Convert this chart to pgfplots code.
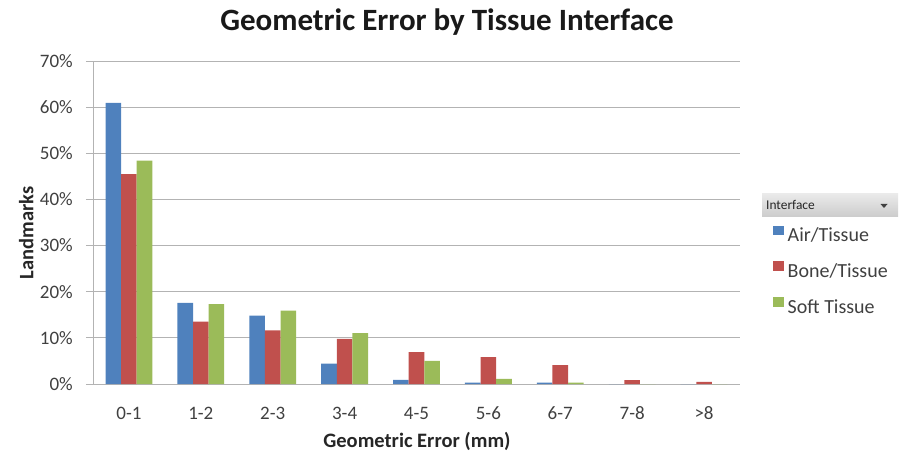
\documentclass[border=0pt]{standalone}
\usepackage{fontspec}
\setmainfont{Carlito}
\usepackage{pgfplots}
\pgfplotsset{compat=1.18}
\definecolor{cBlue}{HTML}{4F81BD}
\definecolor{cRed}{HTML}{C0504D}
\definecolor{cGreen}{HTML}{9BBB59}
\definecolor{gridc}{HTML}{B3B3B3}
\definecolor{txt}{HTML}{404040}
\begin{document}
\begin{tikzpicture}[x=1pt,y=1pt]
\useasboundingbox (0,0) rectangle (900,456);
\begin{axis}[
  at={(93pt,72pt)}, anchor=south west,
  scale only axis, width=647pt, height=323pt,
  ybar=0pt, bar width=15.6pt,
  xmin=-0.5, xmax=8.5, ymin=0, ymax=70,
  xtick={0,1,2,3,4,5,6,7,8},
  xticklabels={0-1,1-2,2-3,3-4,4-5,5-6,6-7,7-8,>8},
  ytick={0,10,20,30,40,50,60,70},
  yticklabel={\pgfmathprintnumber{\tick}\%},
  /pgf/number format/assume math mode=true,
  axis x line*=bottom, axis y line*=left,
  axis line style={gridc, line width=1pt, -},
  x tick style={draw=none},
  y tick style={gridc, line width=1pt},
  tick align=outside, major tick length=7pt,
  ymajorgrids, grid style={gridc, line width=1pt},
  ticklabel style={font=\fontsize{19}{22}\selectfont, text=txt},
  xticklabel style={anchor=base, yshift=-28pt},
  yticklabel style={anchor=east, inner sep=0pt, xshift=-13pt},
  legend style={at={(1.051,0.491)}, anchor=north west, draw=none, fill=none,
    inner sep=0pt, font=\fontsize{20}{24}\selectfont, text=txt,
    nodes={inner sep=0pt, text height=14pt, text depth=4pt},
    /tikz/row sep=15.7pt, /tikz/column sep=4pt},
  legend cell align=left,
  legend image code/.code={\fill[#1] (0pt,1.5pt) rectangle (10.5pt,11pt);},
]
\addplot[fill=cBlue, draw=none] coordinates {(0,60.9) (1,17.6) (2,14.8) (3,4.4) (4,0.9) (5,0.3) (6,0.3) (7,0) (8,0)};
\addplot[fill=cRed, draw=none] coordinates {(0,45.5) (1,13.5) (2,11.6) (3,9.8) (4,6.9) (5,5.85) (6,4.1) (7,0.85) (8,0.45)};
\addplot[fill=cGreen, draw=none] coordinates {(0,48.4) (1,17.3) (2,15.9) (3,11.05) (4,5.0) (5,1.1) (6,0.3) (7,0) (8,0)};
\legend{Air/Tissue, Bone/Tissue, Soft Tissue}
\end{axis}
\node[anchor=base, font=\fontsize{31}{36}\selectfont\bfseries, text=black!90] at (447,425) {Geometric Error by Tissue Interface};
\node[anchor=base, font=\fontsize{20.5}{24}\selectfont\bfseries, text=black!85] at (417,9) {Geometric Error (mm)};
\node[anchor=base, rotate=90, font=\fontsize{20.5}{24}\selectfont\bfseries, text=black!85] at (33.3,223) {Landmarks};
\shade[top color=black!8, bottom color=black!20] (762,239.3) rectangle (898,262.7);
\node[anchor=base west, inner sep=0pt, font=\fontsize{13.4}{16}\selectfont, text=black!85] at (766,246.5) {Interface};
\fill[black!75] (880.5,252) -- (887.5,252) -- (884,248) -- cycle;
\end{tikzpicture}
\end{document}
